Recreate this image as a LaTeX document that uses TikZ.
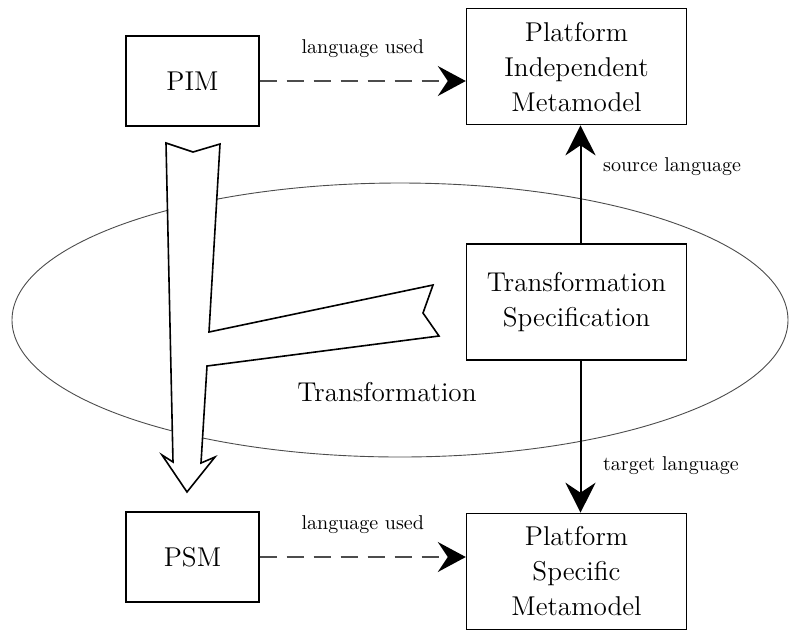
\documentclass[tikz,border=0pt]{standalone}
\usepackage{tikz}
\usetikzlibrary{arrows.meta, positioning}

\begin{document}
\begin{tikzpicture}[x=0.5pt, y=-0.5pt, >={Stealth[length=15pt, width=15pt, inset=5pt]}]
    \tikzstyle{model} = [rectangle, draw=black, line width=0.7pt, fill=white, inner sep=0pt, minimum width=66.5pt, minimum height=45pt, align=center, font=\fontsize{13.6}{17.5}\selectfont]
    \tikzstyle{meta} = [model, minimum width=110pt, minimum height=58pt]
    \tikzstyle{caption} = [align=center, font=\fontsize{13.6}{17.5}\selectfont]
    \tikzstyle{lbl} = [font=\fontsize{10}{12}\selectfont]
    \tikzstyle{uses} = [line width=0.9pt, black!70, dash pattern=on 8.5pt off 5pt, -{Stealth[length=14pt, width=15pt, inset=5pt, black]}]

    \useasboundingbox (0,0) rectangle (798,634);

    % Transformation ellipse (drawn first, stays behind)
    \draw[line width=0.45pt, black!70] (400,320) ellipse [x radius=388, y radius=137];
    \node (trans) at (387,392) [caption] {Transformation};

    % Boxes
    \node (ts) at (576.5,302) [meta] {Transformation\\Specification};
    \node (pimm) [meta, above=59pt of ts] {Platform\\Independent\\Metamodel};
    \node (psmm) [meta, below=76pt of ts] {Platform\\Specific\\Metamodel};
    \node (pim) at (192.5,81) [model] {PIM};
    \node (psm) at (192.5,557) [model] {PSM};

    % Big hollow arrow PIM -> PSM with branch to the specification
    \draw[line width=0.8pt, fill=white, line join=miter]
        (166,143) -- (173,462) -- (162,455) -- (187,492) -- (215,457) -- (201,463)
        -- (207,366) -- (439,336) -- (423,313) -- (433,285) -- (209,332)
        -- (220,144) -- (193,152) -- cycle;

    % Language arrows
    \draw[uses] (pim.east) -- node[above=8pt, lbl, black] {language used} (pim.east -| pimm.west);
    \draw[uses] (psm.east) -- node[above=8pt, lbl, black] {language used} (psm.east -| psmm.west);
    \draw[->, line width=1pt] ([xshift=2pt]ts.north) -- node[right=7.5pt, pos=0.65, lbl] {source language} ([xshift=2pt]pimm.south);
    \draw[->, line width=1pt] ([xshift=2pt]ts.south) -- node[right=7.5pt, pos=0.69, lbl] {target language} ([xshift=2pt]psmm.north);
\end{tikzpicture}
\end{document}
